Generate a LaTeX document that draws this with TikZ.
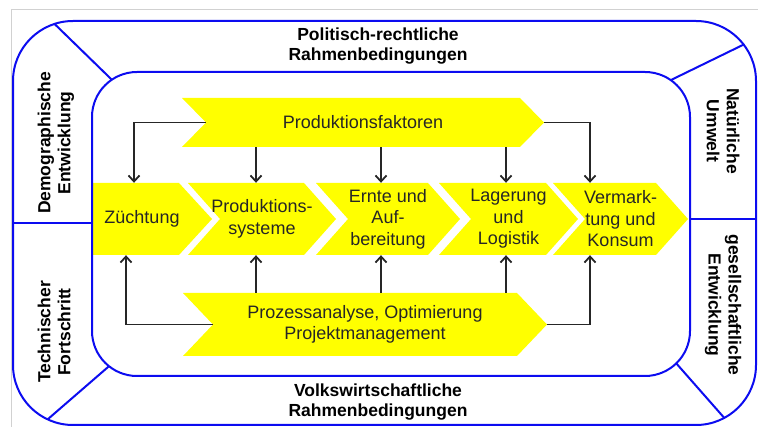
\documentclass[tikz,border=0pt]{standalone}
\usepackage{fontspec}
\setmainfont{Liberation Sans}
\usetikzlibrary{positioning, arrows.meta}
\definecolor{wallblue}{RGB}{12,12,240}
\definecolor{chevyellow}{RGB}{255,255,0}

\begin{document}
\begin{tikzpicture}[x=1pt,y=-1pt,
          wall/.style={draw=wallblue,line width=2pt},
          chevtext/.style={draw=none,inner sep=0pt,align=center,text=black!85,
            font=\fontsize{18}{21.5}\selectfont},
          chev/.style={chevtext,path picture={
              \fill[chevyellow] (path picture bounding box.north west)
                -- ([xshift=-#1]path picture bounding box.north east) -- (path picture bounding box.east)
                -- ([xshift=-#1]path picture bounding box.south east) -- (path picture bounding box.south west)
                -- ([xshift=#1]path picture bounding box.west) -- cycle;}},
          chevz/.style={chevtext,path picture={
              \fill[chevyellow] (path picture bounding box.north west)
                -- ([xshift=-#1]path picture bounding box.north east) -- (path picture bounding box.east)
                -- ([xshift=-#1]path picture bounding box.south east) -- (path picture bounding box.south west)
                -- cycle;}},
          flow/.style={draw=black!85,line width=1.8pt,-{Straight Barb[length=6pt,width=11pt]}},
          side/.style={align=center,font=\bfseries\fontsize{17.5}{20}\selectfont}
        ]
        \useasboundingbox (0,0) rectangle (758,427);
        \draw[black!18,line width=1pt] (11,427) -- (11,10) -- (758,10);
        % chevrons
        \node[chevz=33,minimum width=120,minimum height=72] (zu) at (152,219) {Züchtung\hspace*{20pt}};
        \foreach\nm/\cx/\w/\txt in {ps/262/148/{Produktions-\\systeme},eu/388/144/{Ernte und\\Auf-\\bereitung},
            lg/508.5/139/{Lagerung\\und\\Logistik},vk/620.5/135/{Vermark-\\tung und\\Konsum}}{
          \node[chev=32,minimum width=\w,minimum height=72] (\nm) at (\cx,219) {\txt};
        }
        \node[chev=24,minimum width=362,minimum height=49] (pf) at (363,122.5) {Produktionsfaktoren};
        \node[chev=30,minimum width=364,minimum height=63] (pa) at (365,324.5) {Prozessanalyse, Optimierung\\Projektmanagement};
        % arrows
        \draw[flow] ([xshift=24]pf.west) -| ([xshift=-18]zu.north);
        \draw[flow] (pf.east) -| ([xshift=-30.5]vk.north);
        \draw[flow] ([xshift=30]pa.west) -| ([xshift=-26]zu.south);
        \draw[flow] (pa.east) -| ([xshift=-30.5]vk.south);
        \foreach\nm/\dx in {ps/-6,eu/-7,lg/-2.5}{
          \draw[flow] ([xshift=\dx]\nm.north |- pf.south) -- ([xshift=\dx]\nm.north);
          \draw[flow] ([xshift=\dx]\nm.south |- pa.north) -- ([xshift=\dx]\nm.south);
        }
        % frames
        \draw[wall,rounded corners=60] (13,21) rectangle (756,425);
        \draw[wall,rounded corners=45] (92,72) rectangle (690,376);
        \draw[wall] (54.5,23.9) -- (111.8,79.7);
        \draw[wall] (744.4,44.2) -- (670.8,80.1);
        \draw[wall] (47.6,419.4) -- (109,366.2);
        \draw[wall] (676.3,363.4) -- (724.6,418.3);
        \draw[wall] (13,223) -- (92,223);
        \draw[wall] (690,219) -- (756,219);
        % labels
        \node[side] (pol) at (378,46) {Politisch-rechtliche\\Rahmenbedingungen};
        \node[side] (vw) at (378,402) {Volkswirtschaftliche\\Rahmenbedingungen};
        \node[side,rotate=90] (dem) at (56,143) {Demographische\\Entwicklung};
        \node[side,rotate=90] (tec) at (54,332) {Technischer\\Fortschritt};
        \node[side,rotate=-90] (nat) at (723,131) {Natürliche\\Umwelt};
        \node[side,rotate=-90] (ges) at (723,305) {gesellschaftliche\\Entwicklung};
      \end{tikzpicture}
\end{document}
